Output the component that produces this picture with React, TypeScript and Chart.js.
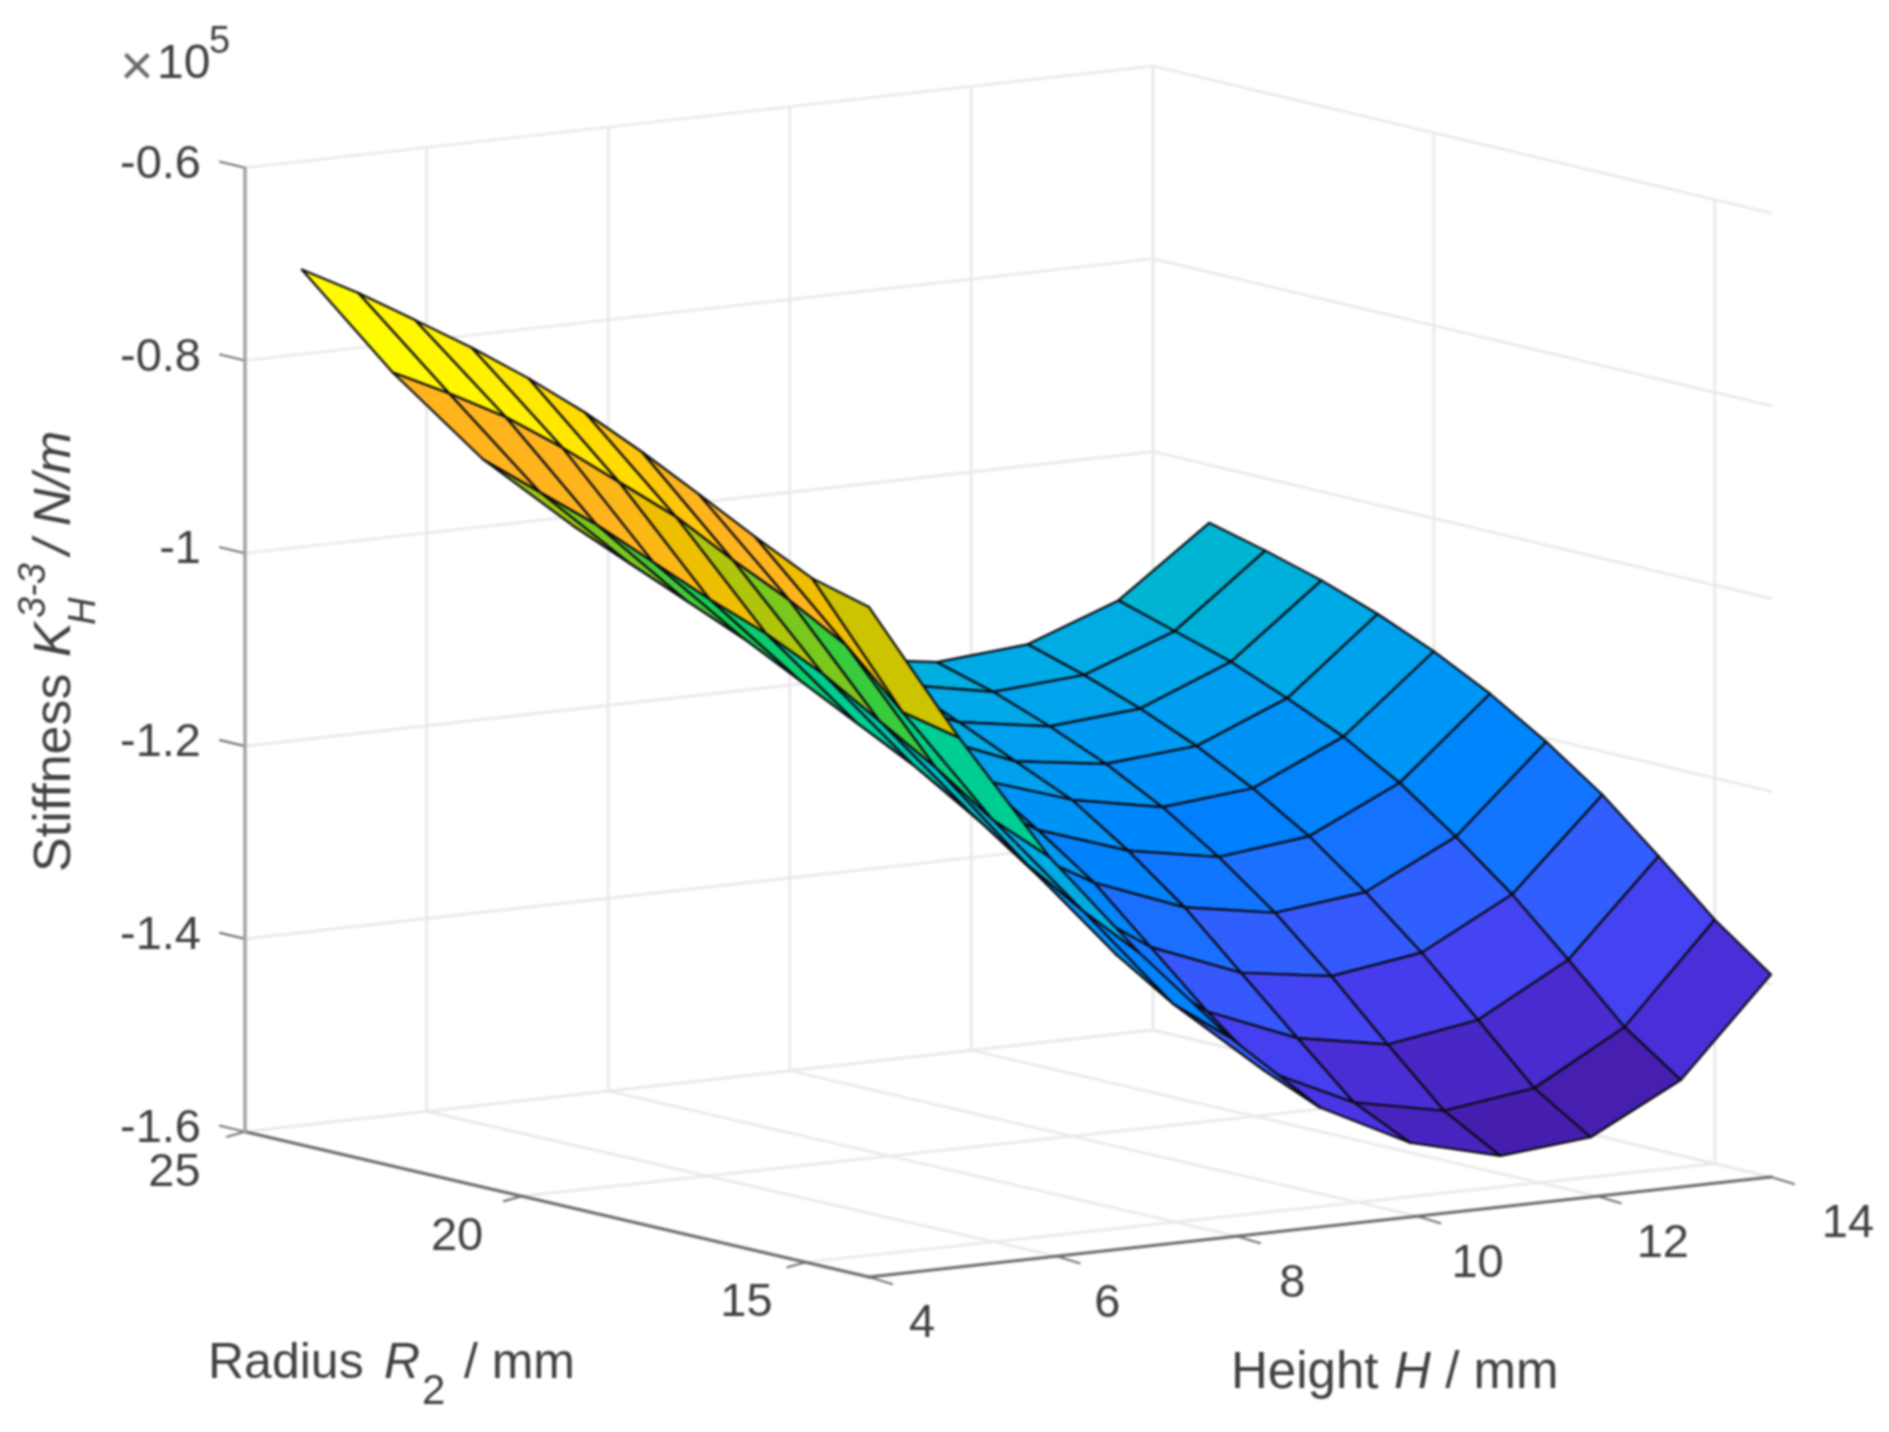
import React, { useEffect, useRef } from "react";
import { Chart, registerables } from "chart.js";

Chart.register(...registerables);

const heights = [4, 5, 6, 7, 8, 9, 10, 11, 12, 13, 14];
const radii = [14, 15, 16, 17, 18, 19, 20, 21, 22, 23, 24];

// Stiffness (x10^5 N/m), one list per height, indexed by radius
const zH4 = [-0.905, -0.889, -0.86, -0.829, -0.799, -0.772, -0.75, -0.732, -0.717, -0.7025, -0.692];
const zH5 = [-1.051, -1.038, -0.982, -0.949, -0.921, -0.89, -0.868, -0.846, -0.828, -0.817, -0.809];
const zH6 = [-1.185, -1.16, -1.12, -1.085, -1.05, -1.022, -1.0, -0.975, -0.95, -0.93, -0.91];
const zH7 = [-1.295, -1.265, -1.23, -1.19, -1.155, -1.125, -1.095, -1.065, -1.04, -1.015, -0.99];
const zH8 = [-1.393, -1.372, -1.335, -1.288, -1.245, -1.2, -1.165, -1.135, -1.1, -1.078, -1.053];
const zH9 = [-1.476, -1.451, -1.404, -1.351, -1.298, -1.257, -1.219, -1.186, -1.16, -1.135, -1.11];
const zH10 = [-1.523, -1.495, -1.442, -1.388, -1.334, -1.289, -1.25, -1.224, -1.197, -1.172, -1.159];
const zH11 = [-1.547, -1.514, -1.459, -1.402, -1.35, -1.306, -1.268, -1.237, -1.212, -1.19, -1.173];
const zH12 = [-1.538, -1.501, -1.444, -1.388, -1.339, -1.295, -1.259, -1.229, -1.204, -1.183, -1.165];
const zH13 = [-1.489, -1.448, -1.392, -1.338, -1.292, -1.25, -1.216, -1.19, -1.166, -1.148, -1.13];
const zH14 = [-1.39, -1.347, -1.295, -1.245, -1.204, -1.168, -1.138, -1.113, -1.092, -1.075, -1.06];
const surface = [zH4, zH5, zH6, zH7, zH8, zH9, zH10, zH11, zH12, zH13, zH14];

const heightTicks = [4, 6, 8, 10, 12, 14];
const radiusTicks = [15, 20, 25];
const zTicks = [-0.6, -0.8, -1, -1.2, -1.4, -1.6];
const zTickLabels = ["-0.6", "-0.8", "-1", "-1.2", "-1.4", "-1.6"];

const colorLevels = [-0.69, -0.74, -0.79, -0.815, -0.86, -0.889, -0.905, -0.95, -1.0, -1.05, -1.13, -1.19, -1.25, -1.31, -1.37, -1.43, -1.48, -1.54];
const colorStops = [
  [255, 255, 0], [255, 238, 0], [255, 208, 0], [255, 180, 30], [255, 180, 30], [240, 190, 0], [205, 195, 0],
  [120, 200, 30], [20, 205, 80], [0, 205, 145], [0, 185, 200], [0, 170, 230], [0, 150, 245],
  [0, 125, 255], [40, 105, 255], [65, 75, 250], [75, 50, 225], [70, 30, 175],
];

const W = 1889;
const H_PX = 1432;
const FRONT = [869, 1277];
const RIGHT = [1771, 1177];
const LEFT = [245, 1131.7];
const BACK = [1153, 1030];
const Z_PX = 964;
const H_MIN = 4, H_MAX = 14, R_MIN = 14, R_MAX = 25, Z_MIN = -1.6;
const NEAR_H_SHIFT = 0.08;
const NEAR_R_SHIFT = 0.12;

function project(h: number, r: number, z: number) {
  const u = (h - H_MIN) / (H_MAX - H_MIN);
  const v = (r - R_MIN) / (R_MAX - R_MIN);
  const blend = (i: number) =>
    FRONT[i] * (1 - u) * (1 - v) + RIGHT[i] * u * (1 - v) + LEFT[i] * (1 - u) * v + BACK[i] * u * v;
  return { x: blend(0), y: blend(1) - Z_PX * (z - Z_MIN) };
}

const nearH = (h: number) => (h > H_MIN && h < H_MAX ? h + NEAR_H_SHIFT : h);
const nearR = (r: number) => (r < R_MAX ? r + NEAR_R_SHIFT : r);

function colorFor(z: number) {
  if (z >= colorLevels[0]) return `rgb(${colorStops[0].join(",")})`;
  for (let i = 1; i < colorLevels.length; i++) {
    if (z >= colorLevels[i]) {
      const t = (z - colorLevels[i - 1]) / (colorLevels[i] - colorLevels[i - 1]);
      const c = colorStops[i - 1].map((a, k) => Math.round(a + (colorStops[i][k] - a) * t));
      return `rgb(${c.join(",")})`;
    }
  }
  return `rgb(${colorStops[colorStops.length - 1].join(",")})`;
}

const line = (data: any[], color: string, width: number) => ({
  type: "scatter",
  showLine: true,
  data,
  borderColor: color,
  borderWidth: width,
  pointRadius: 0,
  pointHoverRadius: 0,
  fill: false,
  clip: false,
  tension: 0,
  borderCapStyle: "round",
  borderJoinStyle: "round",
});

function buildDatasets() {
  const ds: any[] = [];
  // Surface cells: nearest first, because Chart.js paints the last dataset first.
  for (let i = 0; i < heights.length - 1; i++) {
    for (let j = 0; j < radii.length - 1; j++) {
      const pts = [
        project(heights[i], radii[j], surface[i][j]),
        project(heights[i + 1], radii[j], surface[i + 1][j]),
        project(heights[i + 1], radii[j + 1], surface[i + 1][j + 1]),
        project(heights[i], radii[j + 1], surface[i][j + 1]),
      ];
      ds.push({
        ...line([...pts, pts[0]], "#0a0a12", 2.2),
        label: `H${heights[i]} R${radii[j]}`,
        backgroundColor: colorFor(surface[i][j]),
        isCell: true,
      });
    }
  }
  const axisColor = "#6c6c6c";
  const tickColor = "#777777";
  // Z axis and bottom axes
  ds.push(line([project(H_MIN, R_MAX, Z_MIN), project(H_MIN, R_MAX, -0.6)], "#a0a0a0", 3.4));
  ds.push(line([project(H_MIN, R_MAX, Z_MIN), project(H_MIN, R_MIN, Z_MIN)], axisColor, 3.2));
  ds.push(line([project(H_MIN, R_MIN, Z_MIN), project(H_MAX, R_MIN, Z_MIN)], axisColor, 3.2));
  // Ticks
  for (const z of zTicks) {
    const a = project(H_MIN, R_MAX, z);
    ds.push(line([a, { x: a.x - 25, y: a.y - 6 }], tickColor, 2.2));
  }
  for (const h of heightTicks) {
    const a = project(nearH(h), R_MIN, Z_MIN);
    ds.push(line([a, { x: a.x + 23, y: a.y + 7 }], tickColor, 2.2));
  }
  for (const r of radiusTicks) {
    const a = project(H_MIN, nearR(r), Z_MIN);
    ds.push(line([a, { x: a.x - 18, y: a.y + 5 }], tickColor, 2.2));
  }
  // Grid
  const grid = "#e9e9e9";
  for (const z of zTicks) {
    ds.push(line([project(H_MIN, R_MAX, z), project(H_MAX, R_MAX, z), project(H_MAX, R_MIN, z)], grid, 2.6));
  }
  for (const h of heightTicks) {
    ds.push(line([project(nearH(h), R_MIN, Z_MIN), project(h, R_MAX, Z_MIN), ...(h > H_MIN ? [project(h, R_MAX, -0.6)] : [])], grid, 2.6));
  }
  for (const r of radiusTicks) {
    ds.push(line([project(H_MIN, nearR(r), Z_MIN), project(H_MAX, r, Z_MIN), project(H_MAX, r, -0.6)], grid, 2.6));
  }
  return ds;
}

const FONT = '"Liberation Sans", Arial, sans-serif';
const INK = "#404040";

const cellFill = {
  id: "cellFill",
  beforeDatasetDraw(chart: any, args: any) {
    const ds = chart.data.datasets[args.index];
    if (!ds.isCell) return;
    const ctx = chart.ctx;
    const pts = args.meta.data;
    ctx.save();
    ctx.beginPath();
    pts.forEach((p: any, i: number) => (i ? ctx.lineTo(p.x, p.y) : ctx.moveTo(p.x, p.y)));
    ctx.closePath();
    ctx.fillStyle = ds.backgroundColor;
    ctx.fill();
    ctx.restore();
  },
};

function runs(ctx: any, items: [string, string, number, number][]) {
  // [text, font, x, y]
  for (const [t, f, x, y] of items) {
    ctx.font = f;
    ctx.fillText(t, x, y);
  }
}

const labels = {
  id: "labels",
  afterDraw(chart: any) {
    const ctx = chart.ctx;
    ctx.save();
    ctx.fillStyle = INK;
    ctx.textBaseline = "alphabetic";
    const tickFont = `47px ${FONT}`;
    ctx.font = tickFont;
    ctx.textAlign = "right";
    zTicks.forEach((z, i) => {
      const p = project(H_MIN, R_MAX, z);
      ctx.fillText(zTickLabels[i], 201, p.y + 10);
    });
    ctx.textAlign = "center";
    for (const r of radiusTicks) {
      const p = project(H_MIN, nearR(r), Z_MIN);
      ctx.fillText(String(r), p.x - 70.5 + (R_MAX - r) * 1.15, p.y + 54);
    }
    for (const h of heightTicks) {
      const p = project(h, R_MIN, Z_MIN);
      ctx.fillText(String(h), p.x + 53 + (h - H_MIN) * 2.4, p.y + 60);
    }
    ctx.textAlign = "left";
    // exponent
    ctx.fillStyle = "#6a6a6a";
    runs(ctx, [["×", `58px ${FONT}`, 120, 85]]);
    ctx.fillStyle = INK;
    runs(ctx, [
      ["10", `48px ${FONT}`, 157, 78],
      ["5", `38px ${FONT}`, 209, 53],
    ]);
    // Radius label
    runs(ctx, [
      ["Radius ", `50px ${FONT}`, 208, 1378],
      ["R", `italic 50px ${FONT}`, 384, 1378],
      ["2", `42px ${FONT}`, 422, 1404],
      [" / mm", `50px ${FONT}`, 450, 1378],
    ]);
    // Height label
    runs(ctx, [
      ["Height ", `51px ${FONT}`, 1231, 1388],
      ["H", `italic 51px ${FONT}`, 1394, 1388],
      [" / mm", `51px ${FONT}`, 1431, 1388],
    ]);
    // Stiffness label, rotated: positions are measured upward from the baseline start
    ctx.translate(70, 872);
    ctx.rotate(-Math.PI / 2);
    runs(ctx, [
      ["Stiffness ", `52px ${FONT}`, 0, 0],
      ["K", `italic 52px ${FONT}`, 215, 0],
      ["3-3", `italic 38px ${FONT}`, 254, -25],
      ["H", `italic 38px ${FONT}`, 247, 25],
      [" / ", `italic 52px ${FONT}`, 303, 0],
      ["N/m", `italic 52px ${FONT}`, 346, 0],
    ]);
    ctx.restore();
  },
};

export default function App() {
  const ref = useRef<HTMLCanvasElement | null>(null);
  useEffect(() => {
    const chart = new Chart(ref.current as HTMLCanvasElement, {
      type: "scatter",
      data: { datasets: buildDatasets() },
      options: {
        animation: false,
        responsive: false,
        devicePixelRatio: 1,
        layout: { padding: 0 },
        events: [],
        plugins: { legend: { display: false }, tooltip: { enabled: false } },
        scales: {
          x: { type: "linear", min: 0, max: W, display: false },
          y: { type: "linear", min: 0, max: H_PX, reverse: true, display: false },
        },
      },
      plugins: [cellFill, labels],
    } as any);
    return () => chart.destroy();
  }, []);
  return (
    <canvas
      ref={ref}
      width={W}
      height={H_PX}
      style={{ position: "absolute", left: 0, top: 0, width: W, height: H_PX, display: "block", background: "#fff", filter: "blur(0.9px)" }}
    />
  );
}
